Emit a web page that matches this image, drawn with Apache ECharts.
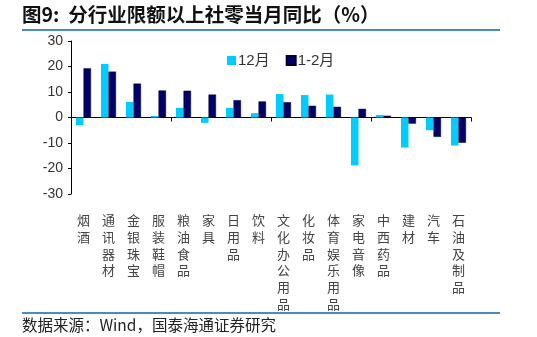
<!DOCTYPE html>
<html><head><meta charset="utf-8">
<script src="https://cdn.jsdelivr.net/npm/echarts@6/dist/echarts.min.js"></script>
<style>html,body{margin:0;padding:0;background:#fff}#c{width:537px;height:337px}</style>
</head><body><div id="c"></div>
<script>
var categories = ['烟酒','通讯器材','金银珠宝','服装鞋帽','粮油食品','家具','日用品','饮料','文化办公用品','化妆品','体育娱乐用品','家电音像','中西药品','建材','汽车','石油及制品'];
var dec = [-3.0, 21.0, 6.1, 0.6, 3.8, -2.1, 3.7, 1.7, 9.2, 8.8, 9.0, -18.8, 1.0, -11.8, -5.0, -11.0];
var janFeb = [19.3, 18.0, 13.3, 10.6, 10.5, 9.0, 6.8, 6.3, 6.0, 4.6, 4.2, 3.4, 0.7, -2.4, -7.6, -9.9];
var yTicks = {min: -30, max: 30, interval: 10};
var seriesNames = ['12月', '1-2月'];

var chart = echarts.init(document.getElementById('c'), null, {renderer: 'canvas'});
var cjk = '"Noto Sans CJK SC", sans-serif';
chart.setOption({
  animation: false,
  grid: {left: 71, right: 66, top: 41, bottom: 143},
  legend: {
    data: seriesNames, left: 222, top: 48, itemWidth: 9, itemHeight: 9, itemGap: 16,
    icon: 'rect',
    textStyle: {fontSize: 15, color: '#333', fontFamily: 'Arial, "Liberation Sans", ' + cjk, padding: [0,0,0,-3]}
  },
  xAxis: [{
    type: 'category', data: categories, position: 'bottom',
    axisLine: {onZero: true, lineStyle: {color: '#000', width: 1}},
    axisTick: {show: true, length: 4, lineStyle: {color: '#000'}},
    axisLabel: {show: false}
  }, {
    type: 'category', data: categories, position: 'bottom',
    axisLine: {show: false}, axisTick: {show: false},
    axisLabel: {
      show: true, interval: 0, margin: 18, verticalAlign: 'top',
      fontSize: 13, lineHeight: 16.7, color: '#444', fontFamily: cjk,
      formatter: function (v) { return v.split('').join('\n'); }
    }
  }],
  yAxis: {
    type: 'value', min: yTicks.min, max: yTicks.max, interval: yTicks.interval,
    axisLine: {show: true, lineStyle: {color: '#000'}},
    axisTick: {show: true, length: 3, lineStyle: {color: '#000'}},
    splitLine: {show: false},
    axisLabel: {fontSize: 14, color: '#333', margin: 8, fontFamily: 'Arial, "Liberation Sans", sans-serif'}
  },
  series: [{
    name: seriesNames[0], type: 'bar', data: dec, barWidth: 7.5, barGap: '0%',
    itemStyle: {color: '#00CCFF'}
  }, {
    name: seriesNames[1], type: 'bar', data: janFeb, barWidth: 7.5,
    itemStyle: {color: '#000066', borderColor: '#000033', borderWidth: 0.5}
  }],
  graphic: [
    {type: 'text', left: 22, top: 5, style: {text: '图9:  分行业限额以上社零当月同比（%）', font: 'bold 19.5px ' + cjk, fill: '#111'}},
    {type: 'rect', shape: {x: 22, y: 29, width: 478, height: 2}, style: {fill: '#4A8CBF'}},
    {type: 'rect', shape: {x: 22, y: 312, width: 478, height: 2}, style: {fill: '#4A8CBF'}},
    {type: 'text', left: 22, top: 317, style: {text: '数据来源：Wind，国泰海通证券研究', font: '15.5px ' + cjk, fill: '#222'}}
  ]
});
</script></body></html>
